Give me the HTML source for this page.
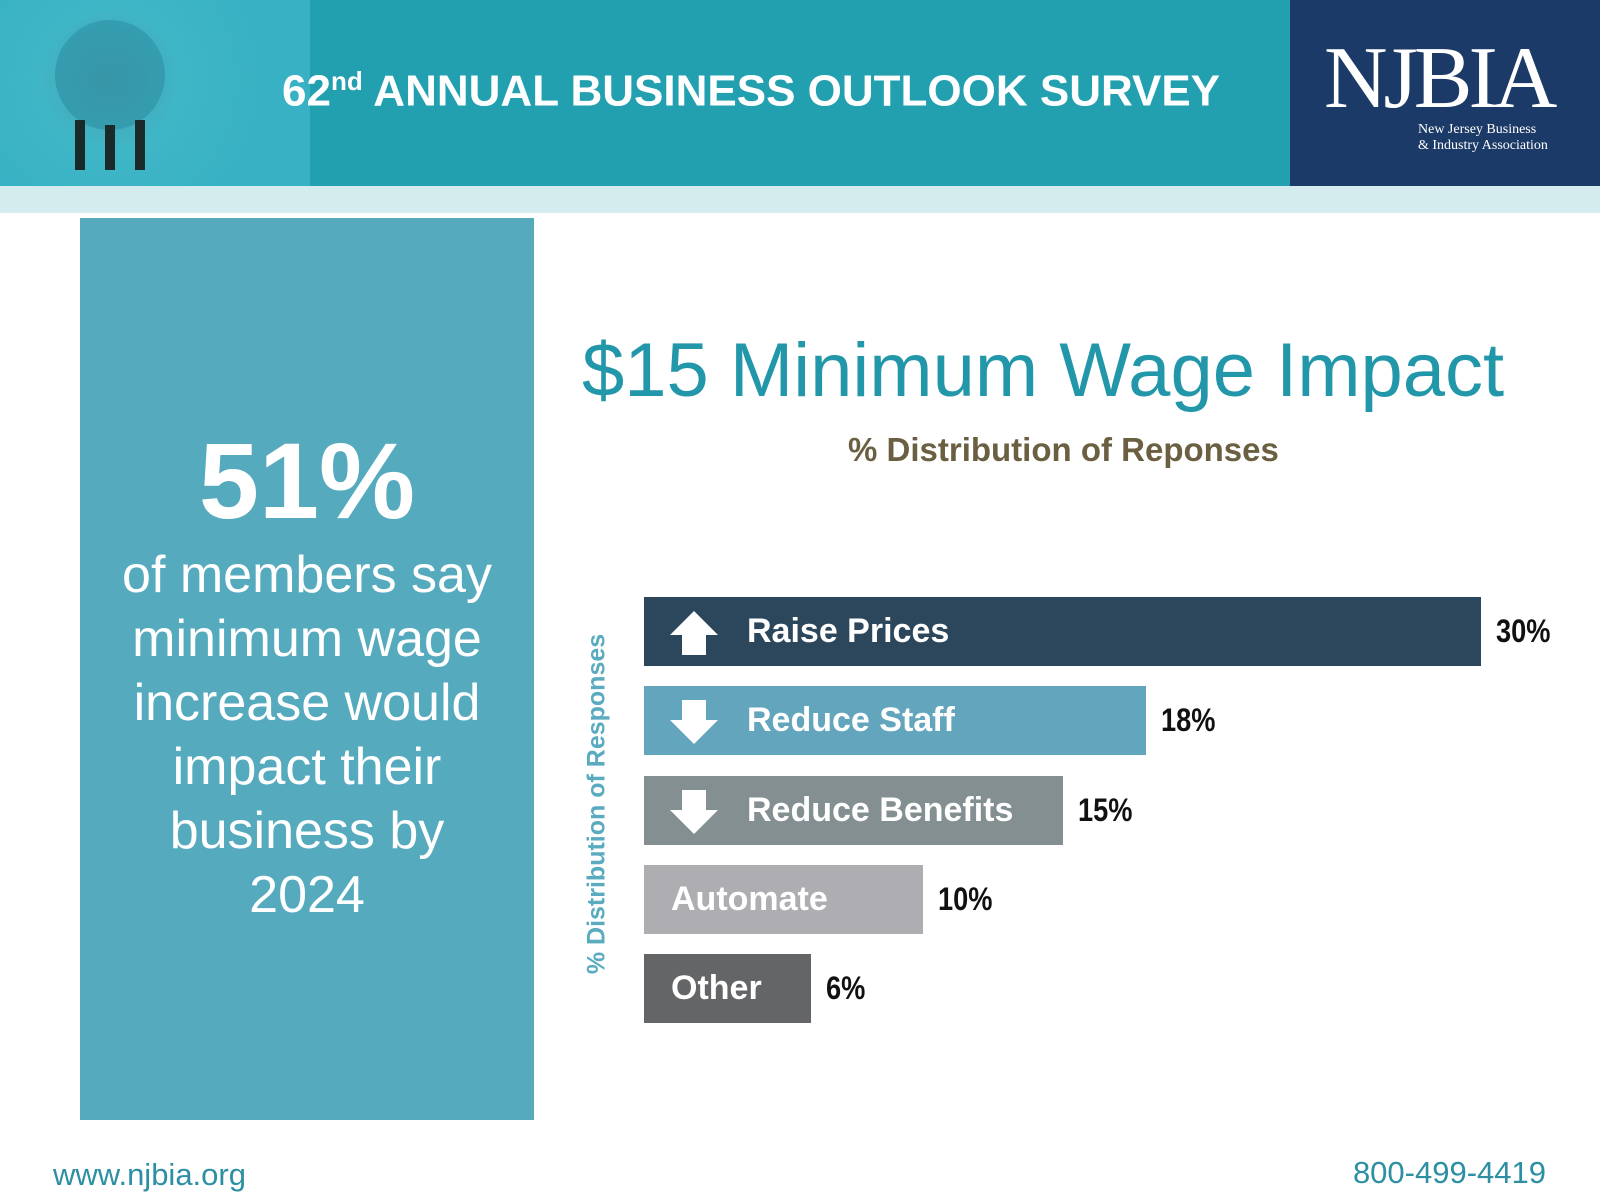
<!DOCTYPE html>
<html><head><meta charset="utf-8"><style>
body{margin:0;width:1600px;height:1200px;position:relative;background:#fff;font-family:"Liberation Sans",sans-serif;overflow:hidden}
.abs{position:absolute}
</style></head><body>
<div class="abs" style="left:0;top:0;width:1290px;height:186px;background:#22a0b0"></div>
<div class="abs" style="left:0;top:0;width:310px;height:186px;background:radial-gradient(circle at 110px 80px,#4a9fb0 0,#3fb6c6 70px,#37b1c3 160px)">
<svg width="310" height="186"><circle cx="110" cy="75" r="55" fill="#2d8fa3" opacity=".6"/><g fill="#1a2a2a"><rect x="75" y="120" width="10" height="50"/><rect x="105" y="125" width="10" height="45"/><rect x="135" y="120" width="10" height="50"/></g></svg></div>
<div class="abs" style="left:282px;top:66px;font-size:44px;font-weight:bold;color:#fff;white-space:nowrap">62<sup style="font-size:26px">nd</sup> ANNUAL BUSINESS OUTLOOK SURVEY</div>
<div class="abs" style="left:1290px;top:0;width:310px;height:186px;background:#1c3a67">
<div class="abs" style="left:34px;top:28px;font-family:'Liberation Serif',serif;font-size:88px;color:#fff;letter-spacing:-4px">NJBIA</div>
<div class="abs" style="left:128px;top:122px;font-family:'Liberation Serif',serif;font-size:14px;color:#fff;line-height:16px">New Jersey Business<br>&amp; Industry Association</div></div>
<div class="abs" style="left:0;top:186px;width:1600px;height:27px;background:#d4ecee"></div>
<div class="abs" style="left:80px;top:218px;width:454px;height:902px;background:#55aabd;color:#fff;text-align:center">
<div style="position:absolute;top:200px;width:100%;font-size:108px;font-weight:bold">51%</div>
<div style="position:absolute;top:325px;width:100%;font-size:52px;line-height:64px">of members say<br>minimum wage<br>increase would<br>impact their<br>business by<br>2024</div></div>
<div class="abs" style="left:582px;top:327px;font-size:76px;color:#2397aa;white-space:nowrap">$15 Minimum Wage Impact</div>
<div class="abs" style="left:848px;top:431px;font-size:33px;font-weight:bold;color:#6b5f42;white-space:nowrap">% Distribution of Reponses</div>
<div class="abs" style="left:597px;top:804px;transform:translate(-50%,-50%) rotate(-90deg);font-size:25px;font-weight:bold;color:#5aabc0;white-space:nowrap">% Distribution of Responses</div>
<div id="chart"></div>
<div class="abs" style="left:53px;top:1157px;font-size:31px;color:#2d8fa3">www.njbia.org</div>
<div class="abs" style="right:54px;top:1155px;font-size:31px;color:#2d8fa3">800-499-4419</div>
<script>
const categories=["Raise Prices","Reduce Staff","Reduce Benefits","Automate","Other"];
const values=[30,18,15,10,6];
const valueLabels=["30%","18%","15%","10%","6%"];
const arrows=["up","down","down","",""];
const colors=["#2c475c","#62a5bd","#848f91","#aeaeb2","#646567"];
const x0=644,pxPer=27.9,y0=597,pitch=89.3,h=69;
const chart=document.getElementById('chart');
categories.forEach((c,i)=>{
 const w=values[i]*pxPer,y=y0+i*pitch;
 const b=document.createElement('div');
 b.className='abs';
 
 
 b.style.cssText=`left:${x0}px;top:${y}px;width:${w}px;height:${h}px;background:${colors[i]}`;
 let lx=27;
 if(arrows[i]){
  const s=document.createElementNS('http://www.w3.org/2000/svg','svg');
  s.setAttribute('width','50');s.setAttribute('height','50');
  s.style.cssText='position:absolute;left:26px;top:12px';
  const p=document.createElementNS('http://www.w3.org/2000/svg','polygon');
  p.setAttribute('points',arrows[i]=='up'?'24,2 48,26 36,26 36,46 12,46 12,26 0,26':'12,2 36,2 36,22 48,22 24,46 0,22 12,22');
  p.setAttribute('fill','#fff');s.appendChild(p);
  
  
  b.appendChild(s);lx=103;
 }
 const t=document.createElement('div');
 
 
 t.textContent=c;
 t.style.cssText=`position:absolute;left:${lx}px;top:0;line-height:${h}px;font-size:34px;font-weight:bold;color:#fff;white-space:nowrap`;
 b.appendChild(t);
 chart.appendChild(b);
 const v=document.createElement('div');
 v.className='abs';
 
 
 v.textContent=valueLabels[i];
 v.style.cssText=`left:${x0+w+15}px;top:${y}px;line-height:${h}px;font-size:32px;font-weight:bold;color:#111;transform:scaleX(.85);transform-origin:left`;
 chart.appendChild(v);
});
</script>
</body></html>
